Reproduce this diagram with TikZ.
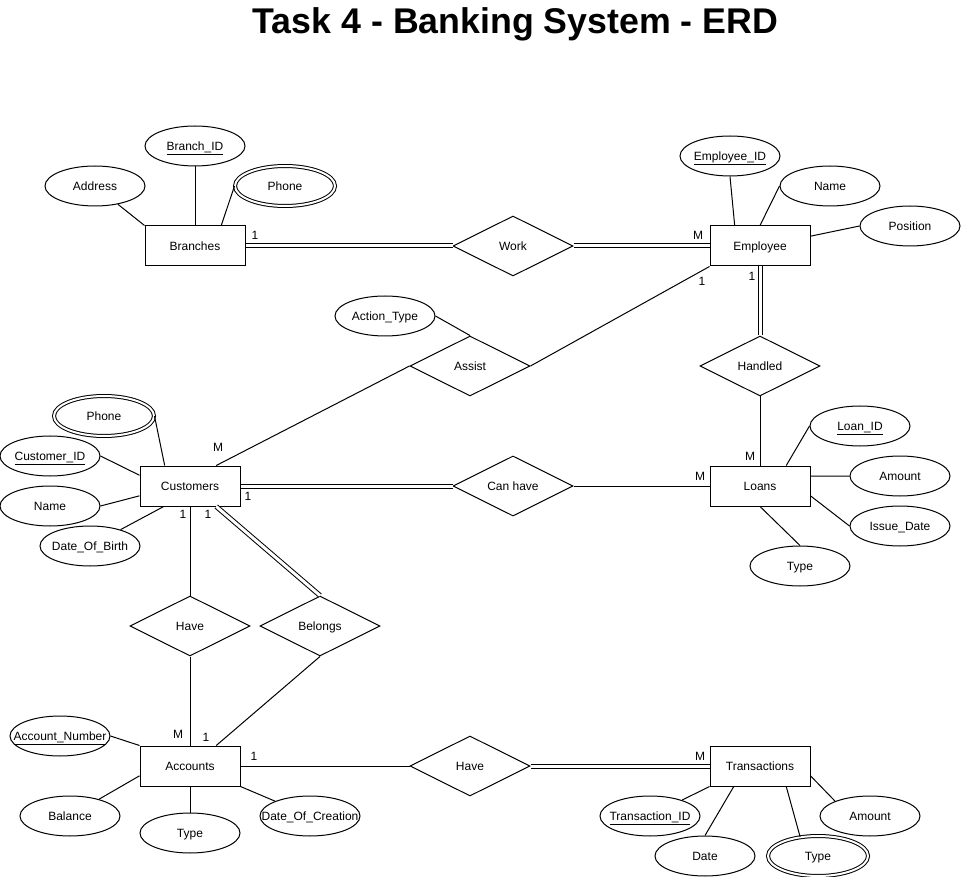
\documentclass[tikz,border=0pt]{standalone}
\usepackage{fontspec}
\setmainfont{Liberation Sans}
\usetikzlibrary{shapes.geometric}

\tikzset{every picture/.style={line width=0.75pt}}
\tikzset{
	label text/.style={font=\fontsize{9}{11}\selectfont, text height=6.5pt, text depth=0pt},
	entity/.style={draw, rectangle, minimum width=75pt, minimum height=30pt, inner sep=0pt, label text},
	relation/.style={draw, diamond, minimum width=90pt, minimum height=45pt, inner sep=0pt, label text},
	attr/.style={draw, ellipse, minimum width=75pt, minimum height=30pt, inner xsep=-11pt, inner ysep=0pt, label text},
	multiattr/.style={attr, double, double distance=1.5pt},
	card/.style={inner sep=0pt, label text},
	total/.style={double, double distance=2.25pt}
}

\begin{document}
\begin{tikzpicture}[x=0.75pt,y=0.75pt,yscale=-1,xscale=1]
	\useasboundingbox (0,0) rectangle (961,877);

	% Text Node
	\node [font=\fontsize{26.8}{32}\selectfont\bfseries, anchor=base] (title) at (515.5,33.3) {Task 4 - Banking System - ERD};

	%Shape: Rectangle
	\node [entity] (Branches) at (195,246) {Branches};
	\node [entity] (Employee) at (760,246) {Employee};
	\node [entity] (Customers) at (190,486) {Customers};
	\node [entity] (Loans) at (760,486) {Loans};
	\node [entity] (Accounts) at (190,766) {Accounts};
	\node [entity] (Transactions) at (760,766) {Transactions};

	%Shape: Diamond
	\node [relation] (Work) at (513,246) {Work};
	\node [relation] (Handled) at (760,366) {Handled};
	\node [relation] (Assist) at (470,366) {Assist};
	\node [relation] (CanHave) at (513,486) {Can have};
	\node [relation] (HaveAcc) at (190,626) {Have};
	\node [relation] (Belongs) at (320,626) {Belongs};
	\node [relation] (HaveTrans) at (470,766) {Have};

	%Shape: Ellipse
	\node [attr] (BranchID) at (195,146) {\underline{Branch\_ID}};
	\node [attr] (BAddress) at (95,186) {Address};
	\node [multiattr] (BPhone) at (285,186) {Phone};
	\node [attr] (EmpID) at (730,156) {\underline{Employee\_ID}};
	\node [attr] (EName) at (830,186) {Name};
	\node [attr] (EPosition) at (910,226) {Position};
	\node [attr] (ActType) at (385,316) {Action\_Type};
	\node [multiattr] (CPhone) at (104,416) {Phone};
	\node [attr] (CustID) at (50,456) {\underline{Customer\_ID}};
	\node [attr] (CName) at (50,506) {Name};
	\node [attr] (DOB) at (90,546) {Date\_Of\_Birth};
	\node [attr] (LoanID) at (860,426) {\underline{Loan\_ID}};
	\node [attr] (LAmount) at (900,476) {Amount};
	\node [attr] (IssueDate) at (900,526) {Issue\_Date};
	\node [attr] (LType) at (800,566) {Type};
	\node [attr] (AccNum) at (60,736) {\underline{Account\_Number}};
	\node [attr] (Balance) at (70,816) {Balance};
	\node [attr] (AType) at (190,833) {Type};
	\node [attr] (DOC) at (310,816) {Date\_Of\_Creation};
	\node [attr] (TransID) at (650,816) {\underline{Transaction\_ID}};
	\node [attr] (TDate) at (705,856) {Date};
	\node [multiattr] (TType) at (818,856) {Type};
	\node [attr] (TAmount) at (870,816) {Amount};

	%Straight Lines
	\draw [total] (Branches.east) -- (Work.west) ;
	\draw [total] (Work.east) -- (Employee.west) ;
	\draw [total] (Employee.south) -- (Handled.north) ;
	\draw (Handled.south) -- (Loans.north) ;
	\draw (Employee.south west) -- (Assist.east) ;
	\draw (Assist.west) -- (Customers.38.66) ;
	\draw (ActType.east) -- (Assist.north) ;
	\draw [total] (Customers.east) -- (CanHave.west) ;
	\draw (CanHave.east) -- (Loans.west) ;
	\draw (Customers.south) -- (HaveAcc.north) ;
	\draw (HaveAcc.south) -- (Accounts.north) ;
	\draw [total] (Customers.-38.66) -- (Belongs.north) ;
	\draw (Belongs.south) -- (Accounts.38.66) ;
	\draw (Accounts.east) -- (HaveTrans.west) ;
	\draw [total] (HaveTrans.east) -- (Transactions.west) ;

	%Straight Lines
	\draw (BranchID) -- (Branches) ;
	\draw (BAddress) -- (Branches.north west) ;
	\draw (BPhone.west) -- (Branches.38.66) ;
	\draw (EmpID.south) -- (Employee.141.34) ;
	\draw (EName.west) -- (Employee.north) ;
	\draw (EPosition.west) -- (Employee.11.31) ;
	\draw (CPhone.east) -- (Customers.141.34) ;
	\draw (CustID.east) -- (Customers.168.69) ;
	\draw (CName.east) -- (Customers.191.31) ;
	\draw (DOB) -- (Customers.218.66) ;
	\draw (LoanID.west) -- (Loans.38.66) ;
	\draw (LAmount.west) -- (Loans.11.31) ;
	\draw (IssueDate.west) -- (Loans.-11.31) ;
	\draw (LType.north) -- (Loans.south) ;
	\draw (AccNum.east) -- (Accounts.north west) ;
	\draw (Balance) -- (Accounts.191.31) ;
	\draw (AType) -- (Accounts) ;
	\draw (DOC) -- (Accounts.south east) ;
	\draw (TransID) -- (Transactions.south west) ;
	\draw (TDate.north) -- (Transactions.218.66) ;
	\draw (TType.133.5) -- (Transactions.-38.66) ;
	\draw (TAmount.157) -- (Transactions.-11.31) ;

	% Text Node
	\node [card] (cBW) at (255,235) {1};
	\node [card] (cWE) at (698,235) {M};
	\node [card] (cEA) at (702,281) {1};
	\node [card] (cAC) at (218,447) {M};
	\node [card] (cEH) at (752,276) {1};
	\node [card] (cHL) at (750,456) {M};
	\node [card] (cCC) at (248,496) {1};
	\node [card] (cCL) at (700,476) {M};
	\node [card] (cCH) at (183,514) {1};
	\node [card] (cCB) at (208,514) {1};
	\node [card] (cHA) at (178,734) {M};
	\node [card] (cBA) at (206,737) {1};
	\node [card] (cAH) at (254,756) {1};
	\node [card] (cHT) at (700,756) {M};

\end{tikzpicture}
\end{document}
